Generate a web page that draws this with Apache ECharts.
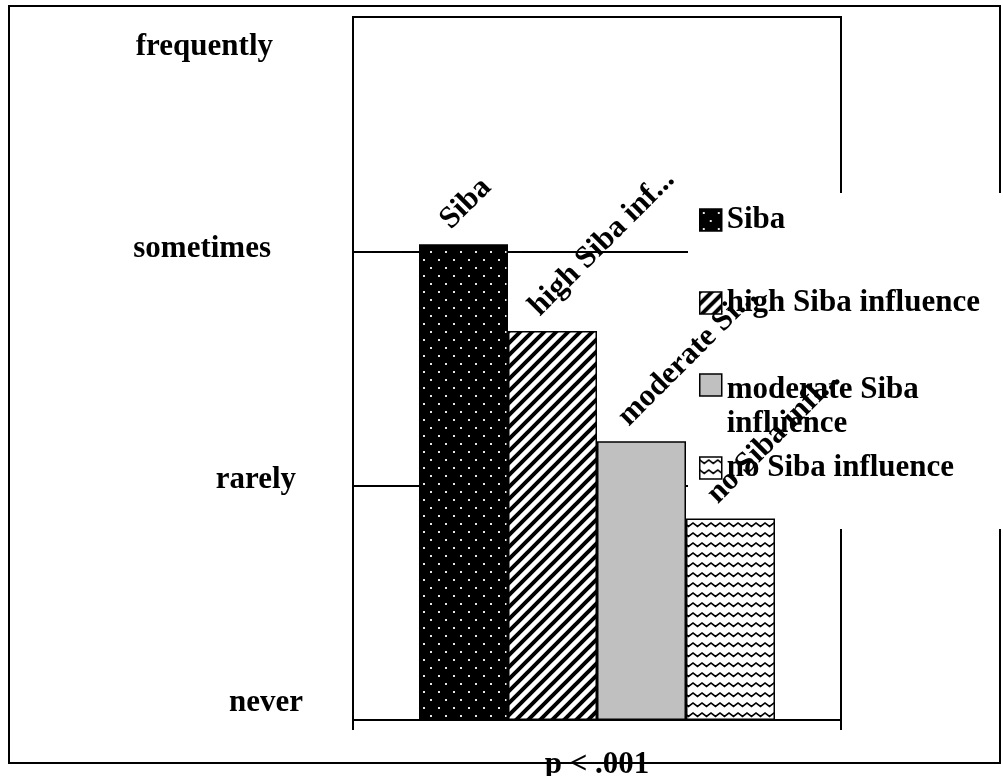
<!DOCTYPE html>
<html>
<head>
<meta charset="utf-8">
<script src="https://cdn.jsdelivr.net/npm/echarts@6/dist/echarts.min.js"></script>
<style>
  html, body { margin: 0; padding: 0; background: #fff; }
  #chart { width: 1003px; height: 776px; }
</style>
</head>
<body>
<div id="chart"></div>
<script>
// Frequency scale (y axis) and the four groups compared
const levels = ['never', 'rarely', 'sometimes', 'frequently'];
const groups = ['Siba', 'high Siba influence', 'moderate Siba influence', 'no Siba influence'];
const barLabels = ['Siba', 'high Siba inf...', 'moderate Si...', 'no Siba infl...'];
const values = [2.03, 1.66, 1.19, 0.86];
const pValue = 'p < .001';

const FONT = 'Liberation Serif, Times New Roman, serif';
const textBase = { fontFamily: FONT, fontWeight: 'bold', fontSize: 31, color: '#000' };

// Small canvas tiles used as repeating fills for the bars
function tile(w, h, draw) {
  const c = document.createElement('canvas');
  c.width = w; c.height = h;
  draw(c.getContext('2d'));
  return c;
}
const dotTile = tile(15, 16, g => {
  g.fillStyle = '#000'; g.fillRect(0, 0, 15, 16);
  g.fillStyle = '#e6e6e6';
  g.fillRect(3, 3, 2, 2);
  g.fillRect(10, 11, 2, 2);
});
const stripeTile = tile(12, 12, g => {
  g.fillStyle = '#fff'; g.fillRect(0, 0, 12, 12);
  g.strokeStyle = '#000'; g.lineWidth = 4;
  g.beginPath();
  g.moveTo(-3, 15); g.lineTo(15, -3);
  g.moveTo(-3, 3); g.lineTo(3, -3);
  g.moveTo(9, 15); g.lineTo(15, 9);
  g.stroke();
});
const waveTile = tile(9, 10, g => {
  g.fillStyle = '#fff'; g.fillRect(0, 0, 9, 10);
  g.strokeStyle = '#000'; g.lineWidth = 1.6;
  g.beginPath();
  g.moveTo(-4.5, 6.5); g.lineTo(0, 3); g.lineTo(4.5, 6.5); g.lineTo(9, 3); g.lineTo(13.5, 6.5);
  g.stroke();
});
const fills = [
  { image: dotTile, repeat: 'repeat' },
  { image: stripeTile, repeat: 'repeat' },
  '#c0c0c0',
  { image: waveTile, repeat: 'repeat' }
];

// Vertical centre of each legend row
const legendCenters = [220, 303, 385, 468];

// Long legend names wrap after their first words; an empty first line keeps
// the first text line level with the swatch.
function legendText(name) {
  const k = name.lastIndexOf(' ');
  if (name.length < 20) return '{t|' + name + '}';
  return '{g| }\n{t|' + name.slice(0, k) + '}\n{t|' + name.slice(k + 1) + '}';
}
const legendRich = {
  t: Object.assign({}, textBase, { lineHeight: 34 }),
  g: Object.assign({}, textBase, { lineHeight: 44 })
};

const chart = echarts.init(document.getElementById('chart'), null, { renderer: 'canvas' });

chart.setOption({
  animation: false,
  backgroundColor: '#fff',
  grid: {
    left: 353, right: 162, top: 17, bottom: 56,
    outerBoundsMode: 'none',
    containLabel: false,
    show: true, borderColor: '#000', borderWidth: 2, backgroundColor: 'transparent'
  },
  xAxis: {
    type: 'category',
    data: [''],
    boundaryGap: true,
    axisLine: { lineStyle: { color: '#000', width: 2 } },
    axisTick: { show: true, length: 10, lineStyle: { color: '#000', width: 2 } },
    axisLabel: { show: false },
    splitLine: { show: false },
    name: pValue,
    nameLocation: 'middle',
    nameGap: 29,
    nameTextStyle: Object.assign({}, textBase)
  },
  yAxis: {
    type: 'value',
    min: 0, max: 3, interval: 1,
    axisLine: { show: true, lineStyle: { color: '#000', width: 2 } },
    axisTick: { show: false },
    splitLine: { show: true, lineStyle: { color: '#000', width: 2 } },
    axisLabel: Object.assign({}, textBase, {
      margin: 50,
      formatter: v => '{l' + v + '|' + levels[v] + '}',
      rich: {
        l0: Object.assign({}, textBase, { padding: [0, 0, 34, 0] }),
        l1: Object.assign({}, textBase, { padding: [0, 7, 12, 0] }),
        l2: Object.assign({}, textBase, { padding: [0, 32, 4, 0] }),
        l3: Object.assign({}, textBase, { padding: [60, 30, 0, 0] })
      }
    })
  },
  legend: groups.map((name, i) => ({
    data: [name],
    left: 699,
    top: legendCenters[i] - (name.length < 20 ? 17 : 56),
    orient: 'vertical',
    padding: 0,
    icon: 'rect',
    itemWidth: 22,
    itemHeight: 22,
    selectedMode: false,
    itemStyle: { borderColor: '#000', borderWidth: 1.5 },
    formatter: legendText,
    textStyle: Object.assign({}, textBase, { lineHeight: 34, rich: legendRich })
  })),
  graphic: [
    {
      type: 'rect', z: 0,
      shape: { x: 9, y: 6, width: 991, height: 757 },
      style: { fill: 'none', stroke: '#000', lineWidth: 2 }
    },
    {
      type: 'rect', z: 1,
      shape: { x: 688, y: 193, width: 330, height: 336 },
      style: { fill: '#fff' }
    }
  ],
  series: groups.map((name, i) => ({
    type: 'bar',
    name: name,
    data: [values[i]],
    barWidth: 89,
    barGap: '0%',
    itemStyle: { color: fills[i], borderColor: '#000', borderWidth: 1.5 },
    label: Object.assign({}, textBase, {
      show: true,
      formatter: barLabels[i],
      position: [26, -20],
      rotate: 45,
      align: 'left',
      verticalAlign: 'middle'
    }),
    emphasis: { disabled: true }
  }))
});
</script>
</body>
</html>
